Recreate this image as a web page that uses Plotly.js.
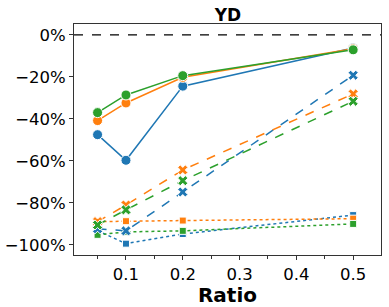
<!DOCTYPE html>
<html><head><meta charset="utf-8">
<script src="https://cdn.plot.ly/plotly-3.0.1.min.js"></script>
<style>body{margin:0;padding:0;background:#fff}#c{width:389px;height:307px}</style>
</head><body><div id="c"></div>
<script>
const ratios = [0.05, 0.1, 0.2, 0.5];
// solid lines, circle markers
const solidBlue   = [-47.5, -59.7, -24.4, -6.2];
const solidOrange = [-40.8, -32.4, -20.2, -6.6];
const solidGreen  = [-37.0, -28.6, -19.4, -7.1];
// dashed lines, x markers
const dashBlue   = [-92.3, -93.3, -74.8, -19.2];
const dashOrange = [-88.9, -81.0, -64.3, -28.1];
const dashGreen  = [-90.5, -83.3, -69.4, -31.6];
// dotted lines, square markers
const dotBlue   = [-93.2, -99.4, -94.8, -85.8];
const dotOrange = [-88.9, -88.7, -88.4, -87.5];
const dotGreen  = [-95.2, -93.8, -93.3, -90.0];
const yTicks = [0, -20, -40, -60, -80, -100];
const yTickText = ['0%', '−20%', '−40%', '−60%', '−80%', '−100%'];

const C = {blue:'#1f77b4', orange:'#ff7f0e', green:'#2ca02c'};
function tr(y, color, dash, symbol, size) {
  return {x: ratios, y: y, mode: 'lines+markers', type: 'scatter',
    line: {color: color, width: 1.5, dash: dash},
    marker: {symbol: symbol, size: size, color: color, line: {color: '#fff', width: 1}},
    showlegend: false, hoverinfo: 'skip'};
}
const data = [
  tr(dotBlue, C.blue, 'dot', 'square', 7),
  tr(dotOrange, C.orange, 'dot', 'square', 7),
  tr(dotGreen, C.green, 'dot', 'square', 7),
  tr(dashBlue, C.blue, 'dash', 'x', 9),
  tr(dashOrange, C.orange, 'dash', 'x', 9),
  tr(dashGreen, C.green, 'dash', 'x', 9),
  tr(solidBlue, C.blue, 'solid', 'circle', 10),
  tr(solidOrange, C.orange, 'solid', 'circle', 10),
  tr(solidGreen, C.green, 'solid', 'circle', 10),
];
const layout = {
  width: 389, height: 307,
  margin: {l: 74, r: 8, t: 24, b: 52},
  paper_bgcolor: '#fff', plot_bgcolor: '#fff',
  font: {family: 'DejaVu Sans', size: 16.5, color: '#000'},
  title: {text: '<b>YD</b>', font: {family: 'DejaVu Sans', size: 17, color: '#000'}, x: 0.586, xanchor: 'center', y: 0.951, yanchor: 'middle'},
  xaxis: {range: [0.0085, 0.549], tickvals: [0.1, 0.2, 0.3, 0.4, 0.5], ticktext: ['0.1','0.2','0.3','0.4','0.5'],
    ticks: 'outside', ticklen: 4, tickcolor: '#333', showgrid: false, zeroline: false,
    showline: true, linecolor: '#333', linewidth: 1, mirror: true,
    minor: {tickvals: [0.05, 0.15, 0.25, 0.35, 0.45], ticks: 'outside', ticklen: 2.5, tickcolor: '#333'},
    title: {text: '<b>Ratio</b>', font: {family: 'DejaVu Sans', size: 20, color: '#000'}, standoff: 5}},
  yaxis: {range: [-104.8, 5.2], tickvals: yTicks, ticktext: yTickText,
    ticks: 'outside', ticklen: 4, tickcolor: '#333', showgrid: false, zeroline: false,
    showline: true, linecolor: '#333', linewidth: 1, mirror: true},
  shapes: [{type: 'line', xref: 'paper', x0: 0, x1: 1, yref: 'y', y0: 0, y1: 0,
    line: {color: '#000', width: 1.2, dash: 'dash'}}]
};
Plotly.newPlot('c', data, layout, {staticPlot: true});
</script></body></html>
